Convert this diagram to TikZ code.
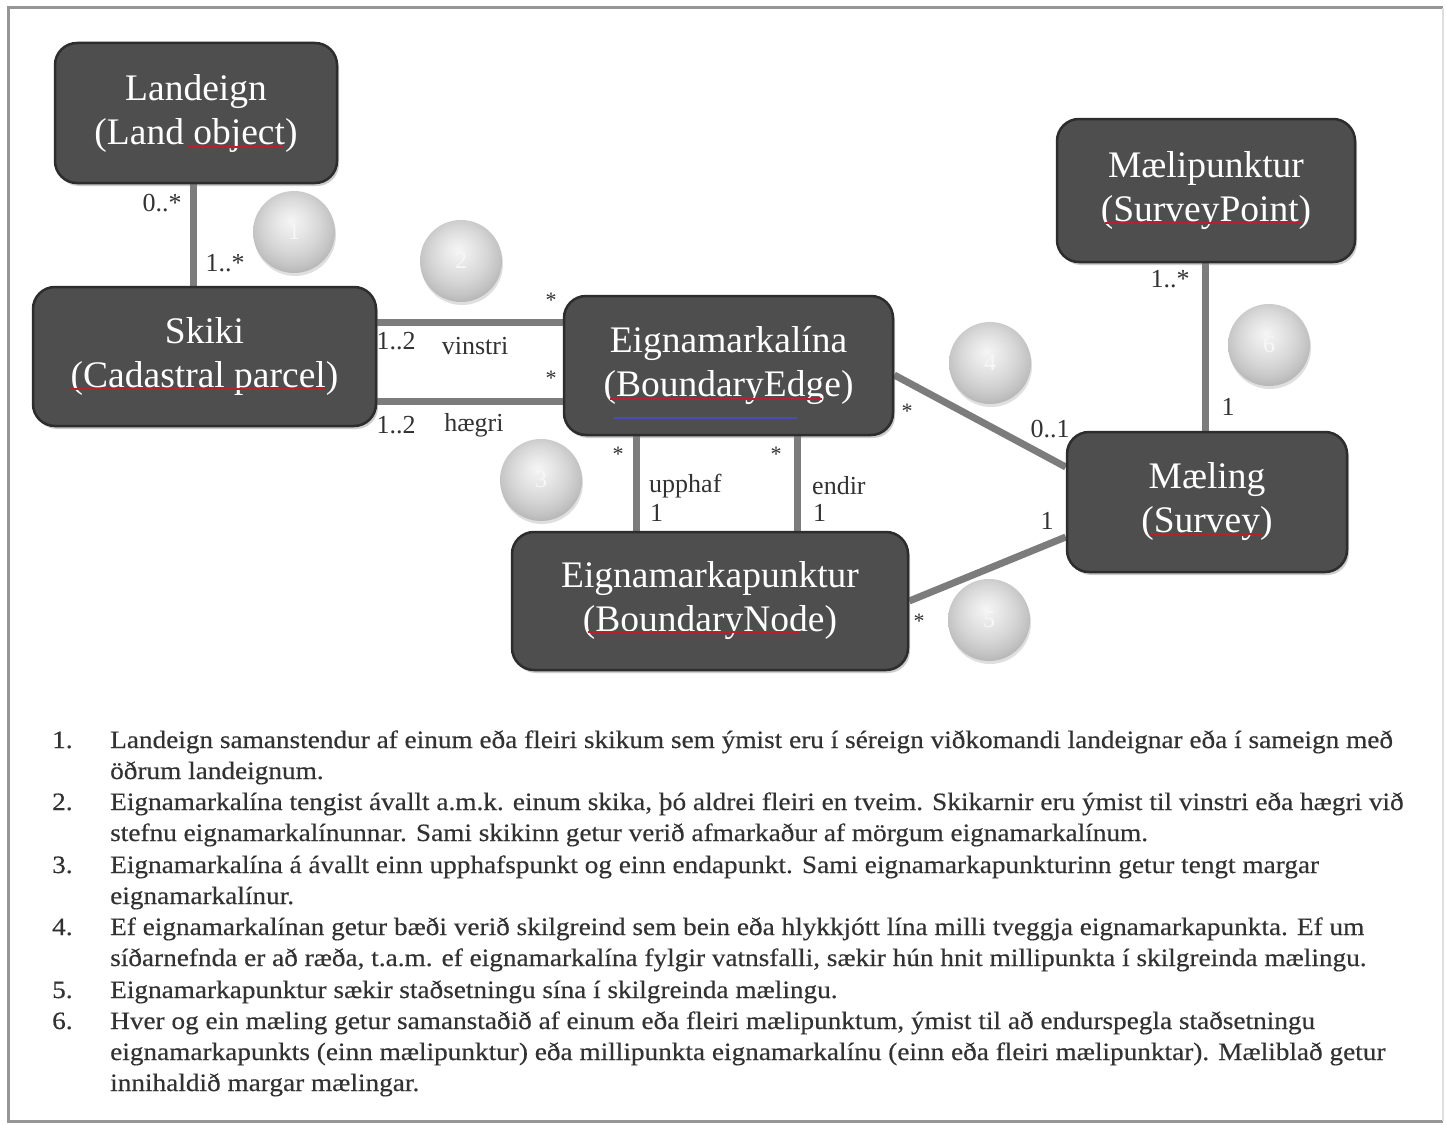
\documentclass[tikz,border=0pt]{standalone}
\usepackage{fontspec}
\setmainfont{Liberation Serif}
\newfontfamily\bodyfont[FakeStretch=1.09,FakeBold=0.35]{Liberation Serif}
\usetikzlibrary{shadows,backgrounds}
\definecolor{boxfill}{RGB}{78,78,78}
\definecolor{boxline}{RGB}{45,45,45}
\definecolor{connc}{RGB}{124,124,124}
\definecolor{txt}{RGB}{50,50,50}
\definecolor{framec}{RGB}{150,150,150}
\definecolor{spell}{RGB}{190,30,40}
\pgfdeclareradialshading{softball}{\pgfpoint{-2bp}{7bp}}{%
  color(0bp)=(white!92!gray);
  color(8bp)=(white!82!gray);
  color(17bp)=(white!68!gray);
  color(24bp)=(white!54!gray);
  color(30bp)=(white!38!gray);
  color(50bp)=(white!38!gray)}
\begin{document}
\begin{tikzpicture}[x=1pt,y=-1pt,
  entity/.style={draw=boxline, line width=2.5pt, fill=boxfill, rounded corners=22pt,
    text=white, align=center, font=\fontsize{37.5}{44}\selectfont, inner sep=0pt,
    drop shadow={shadow xshift=2pt, shadow yshift=-3pt, opacity=.4}},
  conn/.style={draw=connc, line width=7pt},
  lbl/.style={font=\fontsize{26}{30}\selectfont, text=txt, inner sep=0pt},
  star/.style={font=\fontsize{22}{24}\selectfont, text=txt, inner sep=0pt},
  ballst/.style={circle, minimum size=82pt, inner sep=0pt, shading=softball,
    text=white!94!gray, font=\fontsize{24}{24}\selectfont,
    drop shadow={shadow xshift=1pt, shadow yshift=-3pt, opacity=.25}},
  body/.style={font=\bodyfont\fontsize{25}{31}\selectfont, text=txt, anchor=base west, inner sep=0pt},
  spellmark/.style={draw=spell, line width=1.8pt},
  gramark/.style={draw=blue!40!gray, line width=1.8pt}]

\useasboundingbox (0,0) rectangle (1447,1124);

% entities
\node[entity, minimum width=282pt, minimum height=140pt] (L) at (196,113) {Landeign\\(Land object)};
\node[entity, minimum width=343pt, minimum height=139pt] (S) at (204.5,356.5) {Skiki\\(Cadastral parcel)};
\node[entity, minimum width=329pt, minimum height=139pt] (EM) at (728.5,365.5) {Eignamarkalína\\(BoundaryEdge)};
\node[entity, minimum width=396pt, minimum height=138pt] (EP) at (710,601) {Eignamarkapunktur\\(BoundaryNode)};
\node[entity, minimum width=298pt, minimum height=143pt] (MP) at (1206,190.5) {Mælipunktur\\(SurveyPoint)};
\node[entity, minimum width=280pt, minimum height=140pt] (ML) at (1207,502) {Mæling\\(Survey)};

% spell-check underlines
\draw[spellmark] (188,147) -- (283,147);
\draw[spellmark] (70,389) -- (325,389);
\draw[spellmark] (610,399) -- (822,399);
\draw[gramark] (614,418) -- (797,418);
\draw[spellmark] (588,632) -- (800,632);
\draw[spellmark] (1105,223) -- (1302,223);
\draw[spellmark] (1150,534) -- (1262,534);

% background and connectors
\begin{scope}[on background layer]
\fill[white] (0,0) rectangle (1447,1124);
\draw[framec, line width=3pt] (1443,8) -- (8,8) -- (8,1121) -- (1443,1121);
\draw[framec!30, line width=2pt] (1443,8) -- (1443,1121);
\draw[conn] (L.south -| 193,0) -- (S.north -| 193,0);
\draw[conn] (S.east |- 0,322) -- (EM.west |- 0,322);
\draw[conn] (S.east |- 0,401) -- (EM.west |- 0,401);
\draw[conn] (EM.south -| 636,0) -- (EP.north -| 636,0);
\draw[conn] (EM.south -| 797,0) -- (EP.north -| 797,0);
\draw[conn] (EM.east |- 0,375) -- (ML.west |- 0,467);
\draw[conn] (EP.east) -- (ML.west |- 0,537);
\draw[conn] (MP.south -| 1205,0) -- (ML.north -| 1205,0);
\end{scope}

% multiplicity / role labels
\node[lbl] (l1) at (162,203) {0..*};
\node[lbl] (l2) at (225,263) {1..*};
\node[star] (s1) at (551,300) {*};
\node[star] (s2) at (551,378) {*};
\node[lbl] (l3) at (396,341) {1..2};
\node[lbl] (l4) at (475,346) {vinstri};
\node[lbl] (l5) at (396,425) {1..2};
\node[lbl] (l6) at (474,425) {hægri};
\node[star] (s3) at (618,454) {*};
\node[star] (s4) at (776,454) {*};
\node[lbl, anchor=west] (l7) at (649,486) {upphaf};
\node[lbl, anchor=west] (l8) at (650,513) {1};
\node[lbl, anchor=west] (l9) at (812,486) {endir};
\node[lbl, anchor=west] (l10) at (813,513) {1};
\node[star] (s5) at (907,411) {*};
\node[lbl] (l11) at (1050,429) {0..1};
\node[lbl] (l12) at (1047,521) {1};
\node[star] (s6) at (919,621) {*};
\node[lbl] (l13) at (1170,279) {1..*};
\node[lbl] (l14) at (1228,407) {1};

% numbered balls
\node[ballst] (b1) at (294,232) {1};
\node[ballst] (b2) at (461,261) {2};
\node[ballst] (b3) at (541,480) {3};
\node[ballst] (b4) at (990,363) {4};
\node[ballst] (b5) at (989,620) {5};
\node[ballst] (b6) at (1269,345) {6};

% explanatory list
\node[body] (n1) at (52,748) {1.};
\node[body] (t1a) at (110,748) {Landeign samanstendur af einum eða fleiri skikum sem ýmist eru í séreign viðkomandi landeignar eða í sameign með};
\node[body] (t1b) at (110,779) {öðrum landeignum.};
\node[body] (n2) at (52,810) {2.};
\node[body] (t2a) at (110,810) {Eignamarkalína tengist ávallt a.m.k. einum skika, þó aldrei fleiri en tveim. Skikarnir eru ýmist til vinstri eða hægri við};
\node[body] (t2b) at (110,841) {stefnu eignamarkalínunnar. Sami skikinn getur verið afmarkaður af mörgum eignamarkalínum.};
\node[body] (n3) at (52,873) {3.};
\node[body] (t3a) at (110,873) {Eignamarkalína á ávallt einn upphafspunkt og einn endapunkt. Sami eignamarkapunkturinn getur tengt margar};
\node[body] (t3b) at (110,904) {eignamarkalínur.};
\node[body] (n4) at (52,935) {4.};
\node[body] (t4a) at (110,935) {Ef eignamarkalínan getur bæði verið skilgreind sem bein eða hlykkjótt lína milli tveggja eignamarkapunkta. Ef um};
\node[body] (t4b) at (110,966) {síðarnefnda er að ræða, t.a.m. ef eignamarkalína fylgir vatnsfalli, sækir hún hnit millipunkta í skilgreinda mælingu.};
\node[body] (n5) at (52,998) {5.};
\node[body] (t5a) at (110,998) {Eignamarkapunktur sækir staðsetningu sína í skilgreinda mælingu.};
\node[body] (n6) at (52,1029) {6.};
\node[body] (t6a) at (110,1029) {Hver og ein mæling getur samanstaðið af einum eða fleiri mælipunktum, ýmist til að endurspegla staðsetningu};
\node[body] (t6b) at (110,1060) {eignamarkapunkts (einn mælipunktur) eða millipunkta eignamarkalínu (einn eða fleiri mælipunktar). Mæliblað getur};
\node[body] (t6c) at (110,1091) {innihaldið margar mælingar.};
\end{tikzpicture}
\end{document}
